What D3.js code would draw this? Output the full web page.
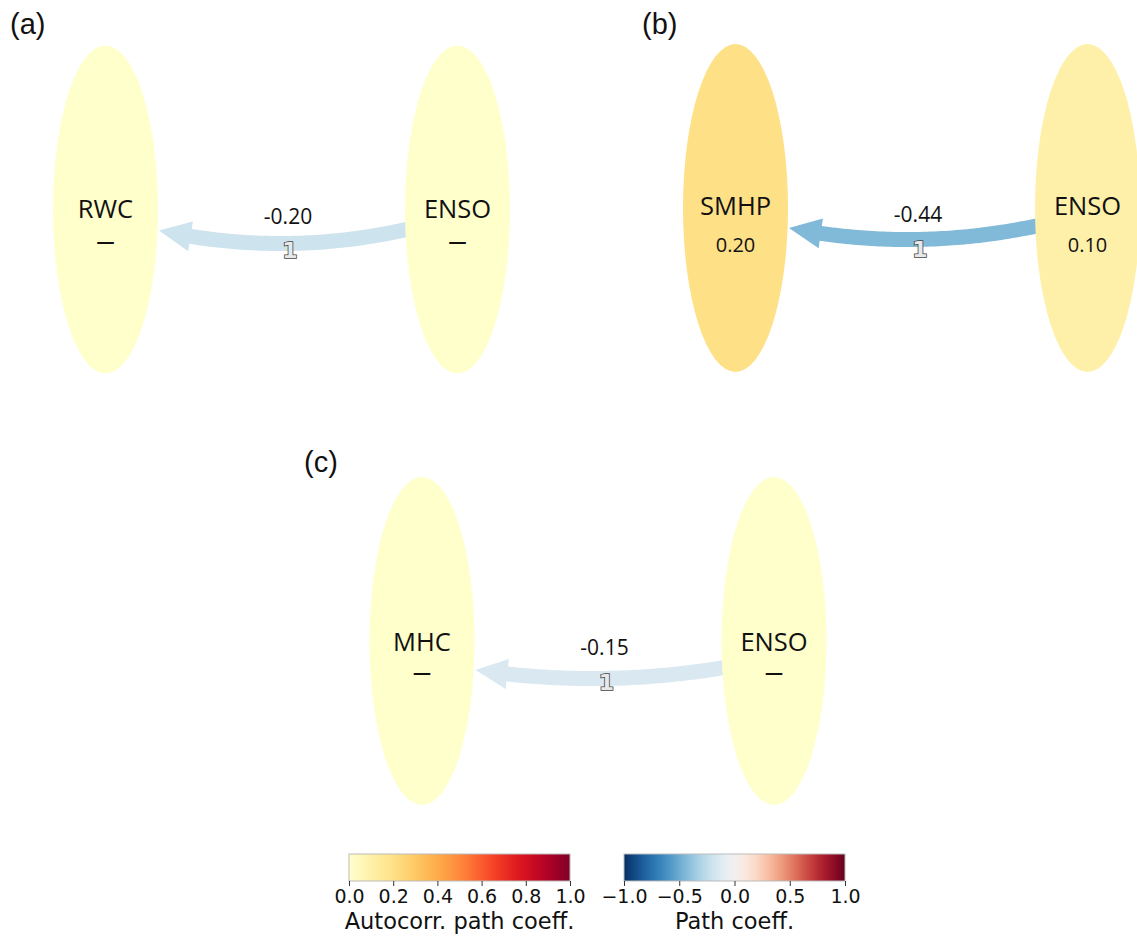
<!DOCTYPE html>
<html>
<head>
<meta charset="utf-8">
<script src="https://cdn.jsdelivr.net/npm/d3@7"></script>
<style>
  html, body { margin: 0; padding: 0; background: #fff; }
  svg { display: block; }
</style>
</head>
<body>
<svg id="chart" width="1137" height="936"></svg>
<script>
// ---- data ----
const panelLabels = ["(a)", "(b)", "(c)"];
const targetNodes = ["RWC", "SMHP", "MHC"];
const sourceNodes = ["ENSO", "ENSO", "ENSO"];
const targetAutocorr = [null, 0.20, null];
const sourceAutocorr = [null, 0.10, null];
const pathCoeff = [-0.20, -0.44, -0.15];
const linkLags = [1, 1, 1];
const autocorrTicks = [0.0, 0.2, 0.4, 0.6, 0.8, 1.0];
const pathTicks = [-1.0, -0.5, 0.0, 0.5, 1.0];

// ---- layout of the three graph panels ----
const panelLayout = [
  { x0: 105.5, cy: 209.5, lx: 10,  ly: 34,  tailDy: 19, tipDy: 21, sag: 14, nameDy: 8.5, valDy: 43 },
  { x0: 735.5, cy: 208,   lx: 642, ly: 34,  tailDy: 17, tipDy: 20, sag: 13, nameDy: 7,   valDy: 44 },
  { x0: 422,   cy: 641,   lx: 304, ly: 472, tailDy: 26, tipDy: 29, sag: 10, nameDy: 10,  valDy: 43 }
];
const nodeGap = 352, rx = 52.5, ry = 164;
const labelFont = "Open Sans";

const svg = d3.select("#chart");

const nodeColor = d3.scaleSequential(d3.interpolateYlOrRd).domain([0, 1]);
const linkColor = d3.scaleSequential(t => d3.interpolateRdBu(1 - t)).domain([-1, 1]);
const fmt2 = d3.format(".2f");

// Build a curved "simple" arrow polygon along a quadratic Bezier
function arrowPath(p0, c, p1, shaftW, headW, headL) {
  const pt = t => [
    (1 - t) * (1 - t) * p0[0] + 2 * (1 - t) * t * c[0] + t * t * p1[0],
    (1 - t) * (1 - t) * p0[1] + 2 * (1 - t) * t * c[1] + t * t * p1[1]
  ];
  const der = t => [
    2 * (1 - t) * (c[0] - p0[0]) + 2 * t * (p1[0] - c[0]),
    2 * (1 - t) * (c[1] - p0[1]) + 2 * t * (p1[1] - c[1])
  ];
  // find parameter where the head starts
  let th = 1;
  for (let t = 1; t > 0; t -= 0.001) {
    const q = pt(t);
    if (Math.hypot(q[0] - p1[0], q[1] - p1[1]) >= headL) { th = t; break; }
  }
  const n = 60, left = [], right = [];
  for (let i = 0; i <= n; i++) {
    const t = th * i / n;
    const q = pt(t), d = der(t), L = Math.hypot(d[0], d[1]);
    const nx = -d[1] / L, ny = d[0] / L;
    left.push([q[0] + nx * shaftW / 2, q[1] + ny * shaftW / 2]);
    right.push([q[0] - nx * shaftW / 2, q[1] - ny * shaftW / 2]);
  }
  const qb = pt(th), db = der(th), Lb = Math.hypot(db[0], db[1]);
  const nbx = -db[1] / Lb, nby = db[0] / Lb;
  const headA = [qb[0] + nbx * headW / 2, qb[1] + nby * headW / 2];
  const headB = [qb[0] - nbx * headW / 2, qb[1] - nby * headW / 2];
  const pts = left.concat([headA, p1, headB], right.reverse());
  return "M" + pts.map(p => p[0].toFixed(2) + "," + p[1].toFixed(2)).join("L") + "Z";
}

panelLabels.forEach((lab, i) => {
  const L = panelLayout[i];
  const x = d3.scalePoint().domain([targetNodes[i], sourceNodes[i] + "_src"]).range([L.x0, L.x0 + nodeGap]);
  const xt = x(targetNodes[i]), xs = x(sourceNodes[i] + "_src");
  const g = svg.append("g");

  // link (drawn below the nodes so its tail tucks under the source ellipse)
  const p0 = [xs - rx + 6, L.cy + L.tailDy];
  const p1 = [xt + rx + 1, L.cy + L.tipDy];
  const cpt = [(p0[0] + p1[0]) / 2, (p0[1] + p1[1]) / 2 + 2 * L.sag];
  g.append("path")
    .attr("d", arrowPath(p0, cpt, p1, 15, 30, 32))
    .attr("fill", linkColor(pathCoeff[i]));

  // nodes
  const nodes = [
    { name: targetNodes[i], cx: xt, ac: targetAutocorr[i] },
    { name: sourceNodes[i], cx: xs, ac: sourceAutocorr[i] }
  ];
  nodes.forEach(nd => {
    g.append("ellipse")
      .attr("cx", nd.cx).attr("cy", L.cy)
      .attr("rx", rx).attr("ry", ry)
      .attr("fill", nodeColor(nd.ac == null ? 0 : nd.ac));
    g.append("text")
      .attr("x", nd.cx).attr("y", L.cy + L.nameDy)
      .attr("text-anchor", "middle")
      .attr("font-family", labelFont)
      .attr("font-size", 25.5)
      .attr("fill", "#111")
      .text(nd.name);
    g.append("text")
      .attr("x", nd.cx).attr("y", L.cy + L.valDy)
      .attr("text-anchor", "middle")
      .attr("font-family", labelFont)
      .attr("font-size", nd.ac == null ? 18 : 20)
      .attr("font-weight", nd.ac == null ? 700 : 400)
      .attr("fill", "#111")
      .attr("dy", nd.ac == null ? -5 : 0)
      .text(nd.ac == null ? "\u2014" : fmt2(nd.ac));
  });

  // link value and lag
  const mx = (p0[0] + p1[0]) / 2;
  g.append("text")
    .attr("x", mx + 3).attr("y", L.cy + 14)
    .attr("text-anchor", "middle")
    .attr("font-family", labelFont)
    .attr("font-size", 21)
    .attr("fill", "#111")
    .text(fmt2(pathCoeff[i]).replace("\u2212", "-"));
  g.append("text")
    .attr("x", mx + 5).attr("y", L.cy + 48.5)
    .attr("text-anchor", "middle")
    .attr("font-family", "DejaVu Sans")
    .attr("font-weight", "bold")
    .attr("font-size", 22)
    .attr("fill", "#e8e8e8")
    .attr("stroke", "#444")
    .attr("stroke-width", 1.6)
    .attr("paint-order", "stroke")
    .text(linkLags[i]);

  // panel tag
  svg.append("text")
    .attr("x", L.lx).attr("y", L.ly)
    .attr("font-family", "Liberation Sans")
    .attr("font-size", 29)
    .attr("fill", "#111")
    .text(lab);
});

// ---- colour bars ----
const defs = svg.append("defs");
function colorbar(id, x0, x1, domain, interp, ticks, label) {
  const grad = defs.append("linearGradient").attr("id", id);
  d3.range(0, 1.0001, 0.02).forEach(t => {
    grad.append("stop").attr("offset", t).attr("stop-color", interp(t));
  });
  const y0 = 854, h = 27;
  const sc = d3.scaleLinear().domain(domain).range([x0, x1]);
  svg.append("rect")
    .attr("x", x0).attr("y", y0).attr("width", x1 - x0).attr("height", h)
    .attr("fill", `url(#${id})`)
    .attr("stroke", "#bbb").attr("stroke-width", 1);
  const ax = svg.append("g")
    .attr("transform", `translate(0,${y0 + h})`)
    .call(d3.axisBottom(sc).tickValues(ticks).tickFormat(d3.format(".1f")).tickSize(5).tickPadding(4));
  ax.select(".domain").remove();
  ax.selectAll(".tick line").attr("stroke", "#333");
  ax.selectAll(".tick text")
    .attr("font-family", "DejaVu Sans")
    .attr("font-size", 19)
    .attr("fill", "#111");
  svg.append("text")
    .attr("x", (x0 + x1) / 2).attr("y", 929)
    .attr("text-anchor", "middle")
    .attr("font-family", "DejaVu Sans")
    .attr("font-size", 22.5)
    .attr("fill", "#111")
    .text(label);
}
colorbar("gradAuto", 349, 570, [0, 1], d3.interpolateYlOrRd, autocorrTicks, "Autocorr. path coeff.");
colorbar("gradPath", 624, 845, [-1, 1], t => d3.interpolateRdBu(1 - t), pathTicks, "Path coeff.");
</script>
</body>
</html>
